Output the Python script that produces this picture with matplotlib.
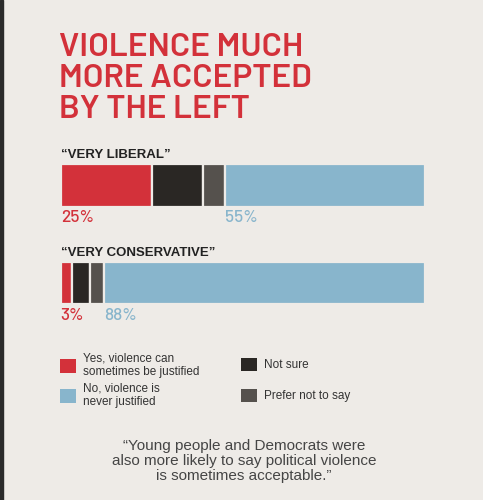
import matplotlib.pyplot as plt
import numpy as np
from matplotlib.patches import Patch, Rectangle

# data
groups = ['\u201cVERY LIBERAL\u201d', '\u201cVERY CONSERVATIVE\u201d']
answers = ['Yes, violence can\nsometimes be justified', 'Not sure',
           'Prefer not to say', 'No, violence is\nnever justified']
yes_vals = [25, 3]
notsure_vals = [14, 5]
prefer_vals = [6, 4]
no_vals = [55, 88]

bg = '#EEEBE7'
red = '#D3313A'
black = '#2A2724'
gray = '#55514D'
blue = '#88B5CC'
colors = [red, black, gray, blue]

W, H = 483, 500
fig = plt.figure(figsize=(W / 100, H / 100), dpi=100, facecolor=bg)
fig.add_artist(Rectangle((0, 0), 2.5 / W, 1, transform=fig.transFigure,
                         color='#2b2b2b', zorder=10))

wide = ['Barlow', 'DejaVu Sans']
sans = ['Liberation Sans', 'DejaVu Sans']

# title
fig.text(59 / W, 1 - 33 / H, 'VIOLENCE MUCH\nMORE ACCEPTED\nBY THE LEFT',
         family=wide, fontsize=24, fontweight=600, color=red,
         ha='left', va='top', linespacing=1.09)

# stacked bars
ax = fig.add_axes([60.7 / W, 1 - 330 / H, (425 - 60.7) / W, 190 / H])
ax.set_facecolor(bg)
ax.set_xlim(0, 100)
ax.set_ylim(1.482, -0.467)
ax.axis('off')

series = np.array([yes_vals, notsure_vals, prefer_vals, no_vals])
y = np.arange(len(groups))
left = np.zeros(len(groups))
for vals, c in zip(series, colors):
    ax.barh(y, vals, left=left, height=0.44, color=c,
            edgecolor=bg, linewidth=1.6)
    left += vals

blue_start = series[:3].sum(axis=0)
for i, g in enumerate(groups):
    ax.text(0, y[i] - 0.31, g, family=sans, fontsize=9.5, fontweight='bold',
            color='#222222', ha='left', va='center')
    ax.text(0, y[i] + 0.33, f'{yes_vals[i]}%', family=wide, fontsize=12.5,
            fontweight=500, color=red, ha='left', va='center')
    ax.text(blue_start[i], y[i] + 0.33, f'{no_vals[i]}%', family=wide,
            fontsize=12.5, fontweight=500, color=blue, ha='left', va='center')

# legend, one block per column so the rows line up
leg_kw = dict(loc='upper left', frameon=False,
              prop={'family': sans, 'size': 8.5}, labelcolor='#333333',
              handlelength=1.35, handleheight=1.35, handletextpad=0.6)
col1 = [0, 3]
col2 = [1, 2]
fig.legend([Patch(facecolor=colors[k], edgecolor='none') for k in col1],
           [answers[k] for k in col1], bbox_to_anchor=(49 / W, 1 - 342 / H),
           labelspacing=0.34, **leg_kw)
fig.legend([Patch(facecolor=colors[k], edgecolor='none') for k in col2],
           [answers[k] for k in col2], bbox_to_anchor=(230 / W, 1 - 347 / H),
           labelspacing=1.5, **leg_kw)

# quote
fig.text(244 / W, 1 - 461 / H,
         '\u201cYoung people and Democrats were\nalso more likely to say political violence\nis sometimes acceptable.\u201d',
         family=sans, fontsize=11, color='#454545', ha='center', va='center',
         linespacing=1.05)

fig.savefig('out.png', dpi=100, facecolor=bg)
